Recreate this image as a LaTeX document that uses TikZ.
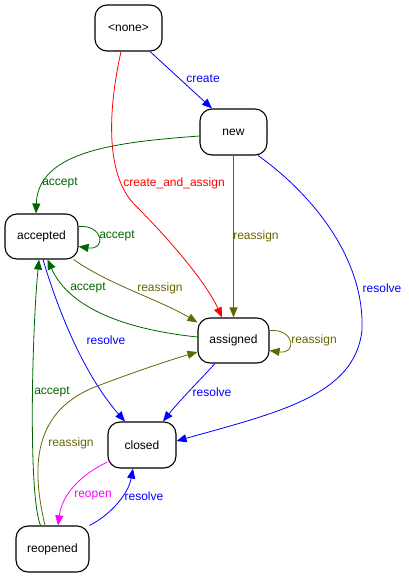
\documentclass[tikz,border=0pt]{standalone}
\usepackage{fontspec}
\setmainfont{Liberation Sans}
\usetikzlibrary{arrows.meta}
\definecolor{cblue}{RGB}{0,0,255}
\definecolor{cgreen}{RGB}{0,100,0}
\definecolor{colive}{RGB}{102,102,0}
\definecolor{cmag}{RGB}{255,0,255}
\definecolor{cred}{RGB}{255,0,0}
\begin{document}
\begin{tikzpicture}[x=1pt,y=-1pt,
  state/.style={draw,line width=1.1pt,rounded corners=12pt,inner sep=0pt,minimum height=46pt,font=\fontsize{12}{14}\selectfont},
  lbl/.style={inner sep=0pt,font=\fontsize{12}{14}\selectfont},
  tr/.style={line width=0.8pt,-{Triangle[length=10pt,width=8pt]}},
]
\useasboundingbox (0,0) rectangle (408,576);
% states
\node[state,minimum width=67pt] (none) at (128.5,28) {<none>};
\node[state,minimum width=67pt] (new) at (233.5,132) {new};
\node[state,minimum width=73pt,minimum height=45pt] (accepted) at (41.5,236.5) {accepted};
\node[state,minimum width=71pt,minimum height=45pt] (assigned) at (233.5,340.5) {assigned};
\node[state,minimum width=68pt] (closed) at (142,445) {closed};
\node[state,minimum width=73pt] (reopened) at (52.5,549) {reopened};
% edges
\draw[tr,cblue] ([xshift=21.5pt]none.south) -- ([xshift=-21.5pt]new.north);
\draw[tr,cred] ([xshift=-7.5pt]none.south) .. controls (108,110) and (105,175) .. (135,205) .. controls (165,235) and (205,280) .. ([xshift=-11.5pt]assigned.north);
\draw[tr,cgreen] ([yshift=-4pt]new.west) .. controls (120,142) and (38,150) .. ([xshift=-5.5pt]accepted.north);
\draw[tr,colive] (new.south) -- (assigned.north);
\draw[tr,cblue] ([xshift=24.5pt]new.south) .. controls (300,185) and (365,250) .. (362,330) .. controls (355,395) and (280,412) .. ([yshift=4pt]closed.east);
\draw[tr,cgreen] ([yshift=10pt]accepted.east) .. controls +(25,-2) and +(28,4) .. ([yshift=-10pt]accepted.east);
\draw[tr,colive] ([xshift=-5pt]accepted.south east) .. controls (110,285) and (160,300) .. ([yshift=-5pt]assigned.north west);
\draw[tr,cgreen] ([yshift=3.5pt]assigned.west) .. controls (130,330) and (70,310) .. ([xshift=6pt]accepted.south);
\draw[tr,cblue] ([xshift=1.5pt]accepted.south) .. controls (55,300) and (80,370) .. ([xshift=-17pt]closed.north);
\draw[tr,colive] ([yshift=10pt]assigned.east) .. controls +(25,-2) and +(28,4) .. ([yshift=-10pt]assigned.east);
\draw[tr,cblue] ([xshift=-18.5pt]assigned.south) .. controls (200,380) and (180,400) .. ([xshift=21pt]closed.north);
\draw[tr,cgreen] ([xshift=-12pt]reopened.north) .. controls (28,495) and (32,330) .. ([xshift=-2.5pt]accepted.south);
\draw[tr,colive] ([xshift=-7.5pt]reopened.north) .. controls (32,470) and (30,410) .. (100,385) .. controls (140,370) and (170,360) .. ([yshift=-11.5pt]assigned.west);
\draw[tr,cmag] ([yshift=-17pt]closed.west) .. controls (80,475) and (62,495) .. ([xshift=5.5pt]reopened.north);
\draw[tr,cblue] (reopened.north east) .. controls (110,515) and (128,495) .. ([xshift=-9pt]closed.south);
% labels
\node[lbl,text=cblue] (l1) at (203,79) {create};
\node[lbl,text=cred] (l2) at (174,183) {create\_and\_assign};
\node[lbl,text=cgreen] (l3) at (60,183) {accept};
\node[lbl,text=cgreen] (l4) at (117,236) {accept};
\node[lbl,text=colive] (l5) at (256,236) {reassign};
\node[lbl,text=cblue] (l6) at (382,288) {resolve};
\node[lbl,text=cgreen] (l7) at (88,288) {accept};
\node[lbl,text=colive] (l8) at (160,288) {reassign};
\node[lbl,text=cblue] (l9) at (106,340) {resolve};
\node[lbl,text=colive] (l10) at (314,340) {reassign};
\node[lbl,text=cgreen] (l11) at (52,392) {accept};
\node[lbl,text=cblue] (l12) at (212,392) {resolve};
\node[lbl,text=colive] (l13) at (71,443) {reassign};
\node[lbl,text=cmag] (l14) at (93,496) {reopen};
\node[lbl,text=cblue] (l15) at (144,496) {resolve};
\end{tikzpicture}
\end{document}
